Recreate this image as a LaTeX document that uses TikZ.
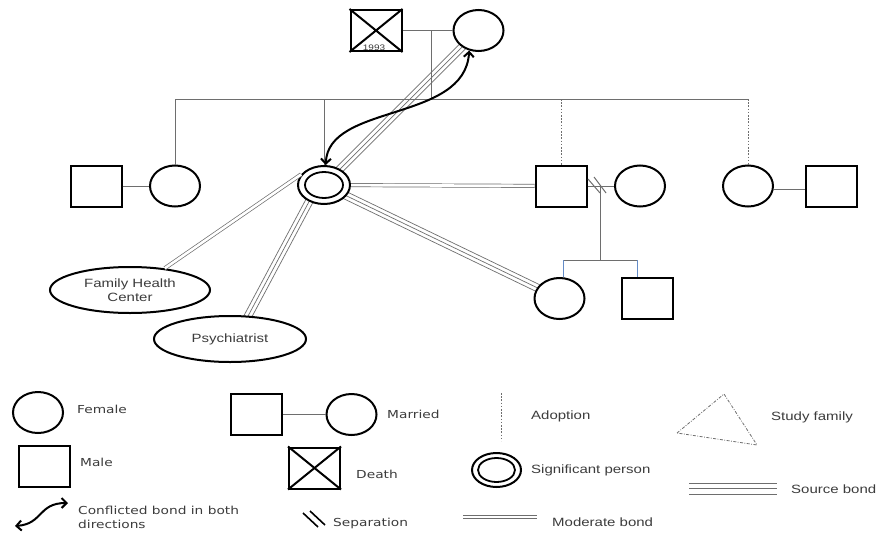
\documentclass[tikz,border=0pt]{standalone}
\usepackage{fontspec}
\usepackage{graphicx}
\setmainfont{Liberation Sans}
\newfontfamily\vfont[FakeStretch=1.25]{DejaVu Sans}
\newcommand{\stretchtxt}[1]{\scalebox{1.25}[1]{#1}}
\usetikzlibrary{shapes.geometric,arrows.meta,calc}
\pgfdeclarelayer{bg}
\pgfsetlayers{bg,main}
\definecolor{txtgray}{RGB}{60,60,60}
\definecolor{linegray}{RGB}{110,110,110}
\definecolor{kidblue}{RGB}{100,140,200}
\tikzset{
  fem/.style={ellipse, draw=black, fill=white, line width=2pt, minimum width=50pt, minimum height=41pt, inner sep=0pt},
  mal/.style={rectangle, draw=black, fill=white, line width=2pt, minimum width=51pt, minimum height=41pt, inner sep=0pt},
  sigp/.style={ellipse, draw=black, fill=white, line width=2pt, minimum width=52pt, minimum height=38pt, inner sep=0pt},
  agency/.style={ellipse, draw=black, fill=white, line width=2pt, inner sep=0pt, align=center, text=txtgray, font=\fontsize{12}{14}\selectfont},
  conn/.style={draw=linegray, line width=1pt},
  adopt/.style={draw=linegray, line width=1pt, dash pattern=on 1.6pt off 1.6pt},
  kid/.style={draw=kidblue, line width=1pt},
  moderate/.style={draw=linegray, line width=0.7pt, double=white, double distance=2.6pt},
  bondline/.style={draw=linegray, line width=0.7pt},
  conflict/.style={draw=black, line width=2pt, {Straight Barb[length=5pt,width=10pt]}-{Straight Barb[length=5pt,width=10pt]}},
  ltxt/.style={anchor=west, text=txtgray, font=\fontsize{12}{14}\selectfont, inner sep=0pt},
  vtxt/.style={anchor=west, text=txtgray, font=\vfont\fontsize{11}{14}\selectfont, inner sep=0pt, align=left},
}
\begin{document}
\begin{tikzpicture}[x=1pt, y=-1pt]
\useasboundingbox (0,0) rectangle (882,535);
\begin{pgfonlayer}{bg}
\fill[white] (0,0) rectangle (882,535);
\end{pgfonlayer}

% ---------- top generation ----------
\node[mal] (dead) at (376,30.5) {};
\draw[line width=2pt] (dead.north west) -- (dead.south east) (dead.north east) -- (dead.south west);
\node[text=txtgray, font=\fontsize{8}{9}\selectfont, inner sep=0pt] (year) at (374,47.5) {\stretchtxt{1993}};
\node[fem] (topf) at (478.5,30.5) {};
\draw[conn] (dead) -- (topf);
\coordinate (tm) at (431,30.5);
\coordinate (tk) at (431,99);
\draw[conn] (tm) -- (tk);

% ---------- second generation ----------
\node[mal] (m1) at (96,186) {};
\node[fem] (f1) at (175,186) {};
\node[sigp] (sig) at (324,185) {};
\draw[line width=1.8pt] (sig.center) ellipse [x radius=19pt, y radius=13pt];
\node[mal] (sq2) at (561,186) {};
\node[fem] (f3) at (640,186) {};
\node[fem] (f4) at (748,186) {};
\node[mal] (m4) at (831,186) {};

\coordinate (sibL) at (f1.north |- 0,99);
\coordinate (sibR) at (f4.north |- 0,99);
\draw[conn] (sibL) -- (sibR);
\draw[conn] (sibL) -- (f1.north);
\draw[conn] (sig.north |- 0,99) -- (sig.north);
\draw[adopt] (sq2.north |- 0,99) -- (sq2.north);
\draw[adopt] (sibR) -- (f4.north);

\draw[conn] (m1) -- (f1);
\draw[conn] ([yshift=-3pt]f4.east) -- ([yshift=-3pt]m4.west);

% separated couple
\draw[conn] (sq2) -- (f3);
\coordinate (sepc) at (600,186);
\draw[conn] ([shift={(-12,-7)}]sepc) -- ++(12,14);
\draw[conn] ([shift={(-6,-9)}]sepc) -- ++(12,16);

% ---------- third generation ----------
\node[fem] (fb) at (559.5,298.5) {};
\node[mal] (mb) at (647.5,298.5) {};
\coordinate (kid) at (600,260);
\coordinate (kL) at (563,260);
\coordinate (kR) at (637,260);
\draw[conn] (sepc) -- (kid);
\draw[conn] (kL) -- (kR);
\draw[kid] (kL) -- (kL |- fb.north);
\draw[kid] (kR) -- (kR |- mb.north);

% ---------- agencies ----------
\node[agency, minimum width=160pt, minimum height=46pt] (fhc) at (130,290) {\stretchtxt{Family Health}\\\stretchtxt{Center}};
\node[agency, minimum width=152pt, minimum height=46pt] (psy) at (230,339) {\stretchtxt{Psychiatrist}};

% ---------- bonds (behind the white-filled nodes) ----------
\coordinate (pa) at ($(sig.228)!-8pt!(psy.52)$);
\coordinate (pb) at ($(psy.52)!-8pt!(sig.228)$);
\begin{pgfonlayer}{bg}
  % source bond: significant person -- mother
  \draw[bondline] ($(sig.center)!3.8pt!90:(topf.center)$) -- ($(topf.center)!3.8pt!-90:(sig.center)$);
  \draw[bondline] (sig.center) -- (topf.center);
  \draw[bondline] ($(sig.center)!3.8pt!-90:(topf.center)$) -- ($(topf.center)!3.8pt!90:(sig.center)$);
  % source bond: significant person -- psychiatrist
  \draw[bondline] ($(pa)!3.8pt!90:(pb)$) -- ($(pb)!3.8pt!-90:(pa)$);
  \draw[bondline] (pa) -- (pb);
  \draw[bondline] ($(pa)!3.8pt!-90:(pb)$) -- ($(pb)!3.8pt!90:(pa)$);
  % source bond: significant person -- niece
  \draw[bondline] ($(sig.center)!3.8pt!90:(fb.center)$) -- ($(fb.center)!3.8pt!-90:(sig.center)$);
  \draw[bondline] (sig.center) -- (fb.center);
  \draw[bondline] ($(sig.center)!3.8pt!-90:(fb.center)$) -- ($(fb.center)!3.8pt!90:(sig.center)$);
\end{pgfonlayer}
\draw[moderate] (sig.155) -- (fhc.32);
\draw[moderate] (sig) -- (sq2);
\draw[conflict] (topf.245) .. controls ($(topf.245)+(-4,72)$) and ($(sig.85)+(2,-62)$) .. (sig.85);

% ---------- legend ----------
\node[fem] (lf) at (38,412.5) {};
\node[vtxt] (lft) at (77,409) {Female};
\node[mal] (lm) at (44.5,466) {};
\node[vtxt] (lmt) at (80,462) {Male};
\coordinate (ca1) at (15,526);
\coordinate (ca2) at (68,503);
\draw[conflict] (ca1) .. controls ($(ca1)+(28,-2)$) and ($(ca2)+(-30,0)$) .. (ca2);
\node[vtxt] (lct) at (78,517) {Conflicted bond in both\\directions};

\node[mal] (lmm) at (256.5,414.5) {};
\node[fem] (lmf) at (351.5,414.5) {};
\draw[conn] (lmm) -- (lmf);
\node[vtxt] (lmat) at (387,414) {Married};

\node[mal] (ld) at (314.5,468) {};
\draw[line width=2pt] (ld.north west) -- (ld.south east) (ld.north east) -- (ld.south west);
\node[vtxt] (ldt) at (356,474) {Death};

\coordinate (s1a) at (303,513);
\coordinate (s1b) at (318,527);
\coordinate (s2a) at (310,511);
\coordinate (s2b) at (325,525);
\draw[line width=1.6pt] (s1a) -- (s1b) (s2a) -- (s2b);
\node[vtxt] (lst) at (333,523) {Separation};

\coordinate (ad1) at (501,393);
\coordinate (ad2) at (501,441);
\draw[adopt] (ad1) -- (ad2);
\node[ltxt] (lat) at (531,416) {\stretchtxt{Adoption}};

\node[sigp, minimum width=49pt, minimum height=34pt] (lsig) at (496.5,470) {};
\draw[line width=1.8pt] (lsig.center) ellipse [x radius=18.5pt, y radius=12pt];
\node[ltxt] (lsigt) at (531,470) {\stretchtxt{Significant person}};

\coordinate (mo1) at (463,517);
\coordinate (mo2) at (537,517);
\draw[moderate] (mo1) -- (mo2);
\node[ltxt] (lmot) at (552,522) {\stretchtxt{Moderate bond}};

\coordinate (t1) at (677,433);
\coordinate (t2) at (724,394);
\coordinate (t3) at (757,445);
\draw[draw=linegray, line width=0.8pt, dash pattern=on 3pt off 1.5pt on 0.8pt off 1.5pt] (t1) -- (t2) -- (t3) -- cycle;
\node[ltxt] (ltt) at (771,417) {\stretchtxt{Study family}};

\coordinate (so1) at (689,483);
\coordinate (so2) at (777,483);
\coordinate (so3) at (689,488.5);
\coordinate (so4) at (777,488.5);
\coordinate (so5) at (689,494);
\coordinate (so6) at (777,494);
\draw[bondline, line width=0.8pt] (so1) -- (so2) (so3) -- (so4) (so5) -- (so6);
\node[ltxt] (lsot) at (791,489) {\stretchtxt{Source bond}};
\end{tikzpicture}
\end{document}
